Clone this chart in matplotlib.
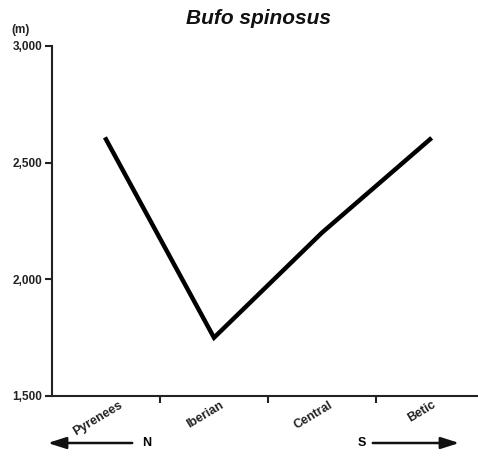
import matplotlib
matplotlib.use("Agg")
import matplotlib.pyplot as plt
from matplotlib.ticker import FuncFormatter

plt.rcParams['font.family'] = ['Liberation Sans', 'DejaVu Sans']

# data
regions = ["Pyrenees", "Iberian", "Central", "Betic"]
altitude = [2600, 1750, 2200, 2600]
yticks = [1500, 2000, 2500, 3000]

fig = plt.figure(figsize=(4.78, 4.57), dpi=100)
ax = fig.add_axes([52 / 478, 61 / 457, 432 / 478, 350 / 457])

x = list(range(len(regions)))
ax.plot(x, altitude, color="black", lw=3.2, solid_joinstyle="miter")

ax.set_xlim(-0.5, len(regions) - 0.5)
ax.set_ylim(1500, 3000)
ax.set_yticks(yticks)
ax.yaxis.set_major_formatter(FuncFormatter(lambda v, p: f"{int(v):,}"))
ax.set_xticks([i + 0.5 for i in range(len(regions) - 1)])
ax.set_xticklabels([])
for i, name in enumerate(regions):
    ax.text(i - 0.08, -0.008, name, transform=ax.get_xaxis_transform(),
            rotation=31, ha="center", va="top", fontsize=9, fontweight="bold",
            color="#222222")

for side in ("top", "right"):
    ax.spines[side].set_visible(False)
for side in ("left", "bottom"):
    ax.spines[side].set_linewidth(1.5)
    ax.spines[side].set_color("#222222")
ax.tick_params(axis="both", direction="out", length=5, width=1.5, color="#222222")
ax.tick_params(axis="y", labelsize=8.5, pad=2, labelcolor="#222222")
for lab in ax.get_yticklabels():
    lab.set_fontweight("bold")

fig.text(258 / 478, 1 - 18 / 457, "Bufo spinosus", ha="center", va="center",
         fontsize=15, fontweight="bold", fontstyle="italic", color="#111111")
fig.text(11 / 478, 1 - 30 / 457, "(m)", ha="left", va="center",
         fontsize=8.5, fontweight="bold", color="#222222")

# N / S arrows
arrow = dict(arrowstyle="-|>,head_length=1.1,head_width=0.35", color="#111111", lw=1.8)
ax.annotate("", xy=(45, 14), xytext=(135, 14), xycoords="figure pixels",
            textcoords="figure pixels", arrowprops=arrow)
ax.annotate("", xy=(462, 14), xytext=(370, 14), xycoords="figure pixels",
            textcoords="figure pixels", arrowprops=arrow)
fig.text(147 / 478, 14 / 457, "N", ha="center", va="center", fontsize=9, fontweight="bold")
fig.text(362 / 478, 14 / 457, "S", ha="center", va="center", fontsize=9, fontweight="bold")

fig.savefig("out.png", dpi=100)
